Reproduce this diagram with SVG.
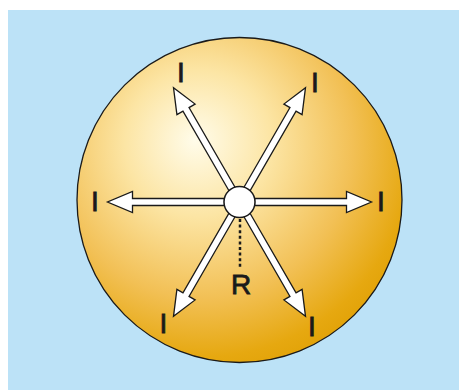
<svg xmlns="http://www.w3.org/2000/svg" width="459" height="390" viewBox="0 0 459 390">
<style>
.arrow{fill:#fff;stroke:#1a1a1a;stroke-width:1.3;stroke-linejoin:miter}
.lbl{font-family:"Liberation Sans",Arial,sans-serif;font-size:28px;fill:#1a1a1a;stroke:#1a1a1a;stroke-width:0.8;text-anchor:middle}
</style>
<defs>
<radialGradient id="sph" gradientUnits="userSpaceOnUse" cx="205" cy="150" r="245" fx="195" fy="140">
<stop offset="0" stop-color="#FFFCEA"/>
<stop offset="0.3" stop-color="#FCE5A4"/>
<stop offset="0.62" stop-color="#F2C055"/>
<stop offset="0.85" stop-color="#E6A810"/>
<stop offset="1" stop-color="#DE9D00"/>
</radialGradient>
<polygon id="arr" class="arrow" points="15,-3.5 107,-3.5 107,-10.5 132,0 107,10.5 107,3.5 15,3.5"/>
</defs>
<rect x="8" y="10" width="451" height="380" fill="#BCE2F7"/>
<g id="sphere">
<circle cx="239.5" cy="200" r="162.5" fill="url(#sph)" stroke="#1a1a1a" stroke-width="1.3"/>
</g>
<g id="connectors">
<line x1="240" y1="219" x2="240" y2="267" stroke="#1a1a1a" stroke-width="2.5" stroke-dasharray="3,2.6"/>
<use href="#arr" transform="translate(239.5,202) rotate(0)"/>
<use href="#arr" transform="translate(239.5,202) rotate(180)"/>
<use href="#arr" transform="translate(239.5,202) rotate(-120)"/>
<use href="#arr" transform="translate(239.5,202) rotate(-60)"/>
<use href="#arr" transform="translate(239.5,202) rotate(120)"/>
<use href="#arr" transform="translate(239.5,202) rotate(60)"/>
</g>
<g id="source">
<circle cx="239.5" cy="202" r="15.5" fill="#fff" stroke="#1a1a1a" stroke-width="1.5"/>
</g>
<g id="labels">
<text class="lbl" x="181" y="82">I</text>
<text class="lbl" x="315" y="92">I</text>
<text class="lbl" x="95" y="211">I</text>
<text class="lbl" x="381" y="211">I</text>
<text class="lbl" x="163.5" y="333">I</text>
<text class="lbl" x="312" y="336">I</text>
<text class="lbl" x="241" y="293.5">R</text>
</g>
</svg>
